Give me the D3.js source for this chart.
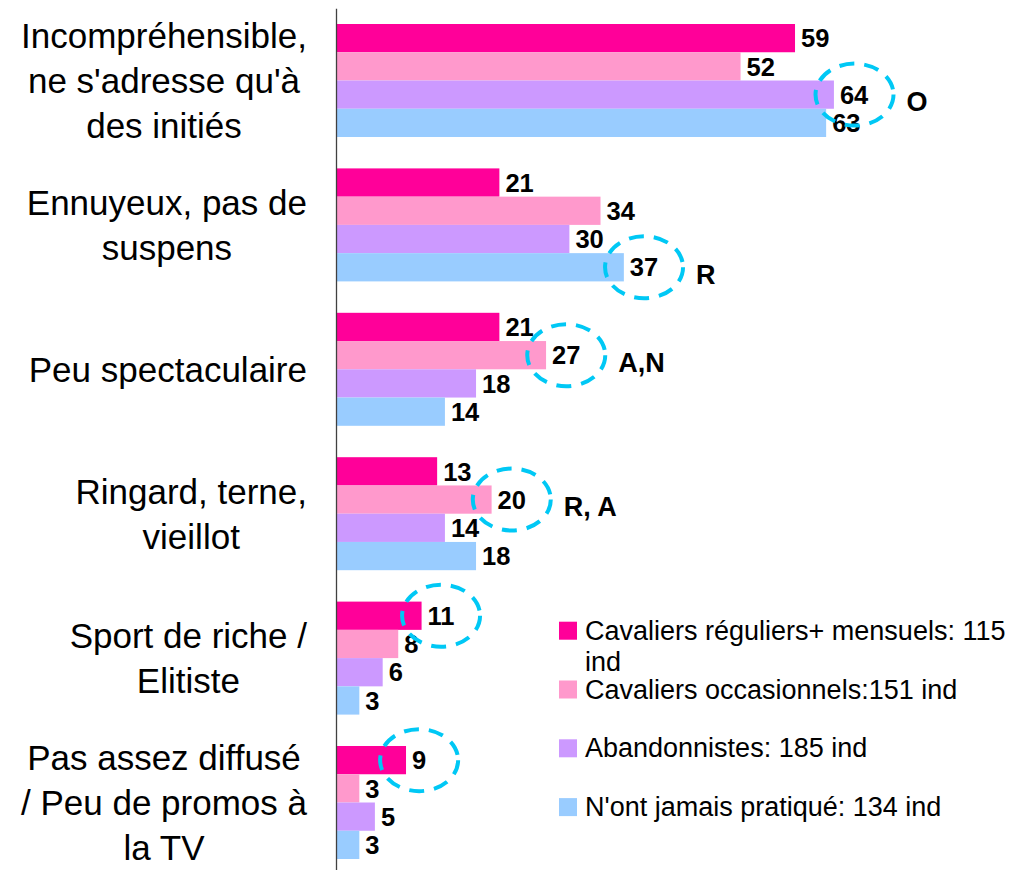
<!DOCTYPE html>
<html>
<head>
<meta charset="utf-8">
<script src="https://cdn.jsdelivr.net/npm/d3@7"></script>
<style>
  html, body { margin: 0; padding: 0; background: #fff; }
  svg { display: block; font-family: "Liberation Sans", Arial, sans-serif; }
</style>
</head>
<body>
<svg id="chart" width="1018" height="870"></svg>
<script>
// ---- data ----
const categories = [
  "Incompréhensible, ne s'adresse qu'à des initiés",
  "Ennuyeux, pas de suspens",
  "Peu spectaculaire",
  "Ringard, terne, vieillot",
  "Sport de riche / Elitiste",
  "Pas assez diffusé / Peu de promos à la TV"
];
const categoryLines = [
  ["Incompréhensible,", "ne s'adresse qu'à", "des initiés"],
  ["Ennuyeux, pas de", "suspens"],
  ["Peu spectaculaire"],
  ["Ringard, terne,", "vieillot"],
  ["Sport de riche /", "Elitiste"],
  ["Pas assez diffusé", "/ Peu de promos à", "la TV"]
];
const seriesNames = [
  "Cavaliers réguliers+ mensuels: 115 ind",
  "Cavaliers occasionnels:151 ind",
  "Abandonnistes: 185 ind",
  "N'ont jamais pratiqué: 134 ind"
];
const reguliers     = [59, 21, 21, 13, 11, 9];
const occasionnels  = [52, 34, 27, 20, 8, 3];
const abandonnistes = [64, 30, 18, 14, 6, 5];
const jamais        = [63, 37, 14, 18, 3, 3];
// significant differences (circled value + note letters)
const highlightCat    = [0, 1, 2, 3, 4, 5];
const highlightSeries = [2, 3, 1, 1, 0, 0];
const highlightNote   = ["O", "R", "A,N", "R, A", "", ""];

// ---- styles ----
const colors = ["#FF0099", "#FF99CC", "#CC99FF", "#99CCFF"];
const circleColor = "#00C8F5";

const seriesValues = [reguliers, occasionnels, abandonnistes, jamais];

const svg = d3.select("#chart");
const axisX = 336;
const pxPerUnit = 7.78;

const x = d3.scaleLinear().domain([0, 70]).range([axisX, axisX + 70 * pxPerUnit]);
const y = d3.scaleBand().domain(categories).range([8.3, 874.7])
  .paddingInner(0.2175).paddingOuter(0.2175 / 2);
const ys = d3.scaleBand().domain(d3.range(seriesNames.length)).range([0, y.bandwidth()]);

const cells = [];
categories.forEach((c, ci) => {
  seriesValues.forEach((vals, si) => cells.push({ci, si, c, v: vals[ci]}));
});

// bars
svg.append("g").selectAll("rect")
  .data(cells).join("rect")
  .attr("x", x(0))
  .attr("y", d => y(d.c) + ys(d.si))
  .attr("width", d => x(d.v) - x(0))
  .attr("height", ys.bandwidth())
  .attr("fill", d => colors[d.si]);

// value labels
const valueLabels = svg.append("g").selectAll("text")
  .data(cells).join("text")
  .attr("x", d => x(d.v) + 6)
  .attr("y", d => y(d.c) + ys(d.si) + ys.bandwidth() / 2)
  .attr("dy", "0.36em")
  .attr("font-size", 25.5)
  .attr("font-weight", "bold")
  .attr("fill", "#000")
  .text(d => d.v);

// axis line
svg.append("g")
  .attr("transform", `translate(${axisX},0)`)
  .call(d3.axisLeft(y).tickSize(0).tickSizeOuter(0).tickFormat(""))
  .call(g => g.select(".domain").attr("stroke", "#404040").attr("stroke-width", 1.3));

// category labels: block right-aligned to axis, lines centered in block
const catFont = 35, lineH = 45;
categories.forEach((c, ci) => {
  const lines = categoryLines[ci];
  const g = svg.append("g");
  const texts = g.selectAll("text").data(lines).join("text")
    .attr("font-size", catFont)
    .attr("fill", "#000")
    .attr("text-anchor", "middle")
    .attr("y", (d, i) => y(c) + y.bandwidth() / 2 + (i - (lines.length - 1) / 2) * lineH + 0.36 * catFont)
    .text(d => d);
  let maxW = 0;
  texts.each(function () { maxW = Math.max(maxW, this.getComputedTextLength()); });
  const right = axisX - 29;
  texts.attr("x", right - maxW / 2);
});

// highlight ellipses and notes
const labelNodes = valueLabels.nodes();
highlightCat.forEach((ci, k) => {
  const si = highlightSeries[k];
  const node = labelNodes[ci * seriesValues.length + si];
  const bb = node.getBBox();
  const cx = bb.x + bb.width / 2;
  const cy = y(categories[ci]) + ys(si) + ys.bandwidth() / 2;
  svg.append("ellipse")
    .attr("cx", cx).attr("cy", cy)
    .attr("rx", 39).attr("ry", 31)
    .attr("fill", "none")
    .attr("stroke", circleColor)
    .attr("stroke-width", 4)
    .attr("stroke-dasharray", "15 10");
  if (highlightNote[k]) {
    svg.append("text")
      .attr("x", cx + 52)
      .attr("y", cy + 7)
      .attr("dy", "0.36em")
      .attr("font-size", 27)
      .attr("font-weight", "bold")
      .attr("fill", "#000")
      .text(highlightNote[k]);
  }
});

// legend
const legX = 559, legY = 621.7, legStep = 58.8, legFont = 27, legMaxW = 433;
seriesNames.forEach((name, i) => {
  const top = legY + i * legStep;
  svg.append("rect")
    .attr("x", legX).attr("y", top)
    .attr("width", 18).attr("height", 18)
    .attr("fill", colors[i]);
  const t = svg.append("text")
    .attr("x", legX + 26).attr("y", top + 18)
    .attr("font-size", legFont).attr("fill", "#000");
  const words = name.split(" ");
  let line = [];
  let tspan = t.append("tspan").attr("x", legX + 26).attr("dy", 0);
  words.forEach(w => {
    line.push(w);
    tspan.text(line.join(" "));
    if (tspan.node().getComputedTextLength() > legMaxW && line.length > 1) {
      line.pop();
      tspan.text(line.join(" "));
      line = [w];
      tspan = t.append("tspan").attr("x", legX + 26).attr("dy", 31).text(w);
    }
  });
});
</script>
</body>
</html>
